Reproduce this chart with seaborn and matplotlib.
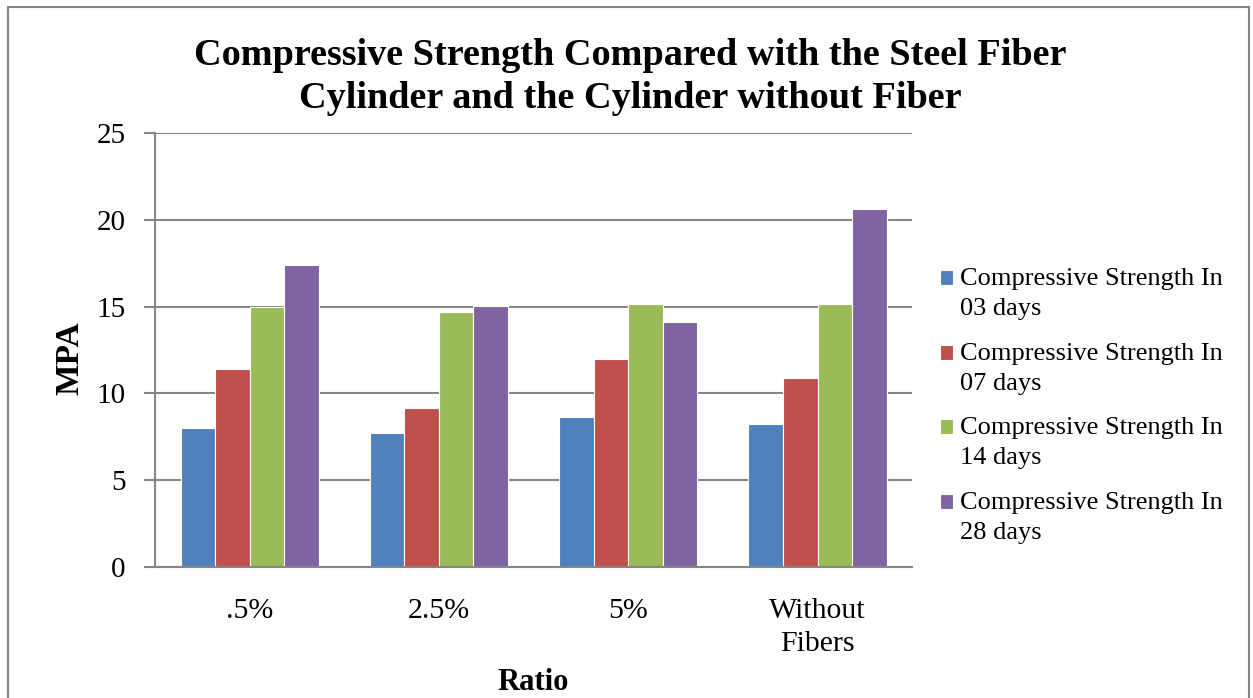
import pandas as pd
import matplotlib.pyplot as plt
import seaborn as sns
from matplotlib.patches import Rectangle
from matplotlib.legend_handler import HandlerPatch

# data
ratios = ['.5%', '2.5%', '5%', 'Without\nFibers']
series = ['Compressive Strength In\n03 days', 'Compressive Strength In\n07 days',
          'Compressive Strength In\n14 days', 'Compressive Strength In\n28 days']
days_03 = [8.02, 7.73, 8.63, 8.23]
days_07 = [11.38, 9.15, 11.96, 10.88]
days_14 = [15.0, 14.67, 15.17, 15.15]
days_28 = [17.37, 15.06, 14.11, 20.6]
colors = ['#4F81BD', '#C0504D', '#9BBB59', '#8064A2']

df = pd.DataFrame({'Ratio': ratios * 4,
                   'MPA': days_03 + days_07 + days_14 + days_28,
                   'Serie': [s for s in series for _ in ratios]})

sns.set_style('white')
plt.rcParams['font.family'] = ['Liberation Serif', 'DejaVu Serif']
plt.rcParams['text.color'] = 'black'
plt.rcParams['xtick.color'] = 'black'
plt.rcParams['ytick.color'] = 'black'
plt.rcParams['axes.labelcolor'] = 'black'

fig = plt.figure(figsize=(12.53, 6.98), dpi=100)
ax = fig.add_axes([0.1237, 0.1877, 0.6043, 0.6218])

sns.barplot(data=df, x='Ratio', y='MPA', hue='Serie', palette=colors, width=0.73,
            gap=0, edgecolor='white', linewidth=0.8, ax=ax, saturation=1)

ax.set_ylim(0, 25)
ax.set_xlim(-0.5, 3.5)
ax.set_yticks([0, 5, 10, 15, 20, 25])
ax.yaxis.grid(True, color='#868686', linewidth=1.5)
ax.set_axisbelow(True)
for s in ['top', 'right']:
    ax.spines[s].set_visible(False)
for s in ['left', 'bottom']:
    ax.spines[s].set_color('#868686')
    ax.spines[s].set_linewidth(1.5)
ax.tick_params(axis='y', which='major', length=8, width=1.5, color='#868686',
               labelsize=21, pad=13, left=True, labelcolor='black')
ax.tick_params(axis='x', length=0, labelsize=21.5, pad=22, labelcolor='black')
for t in ax.get_xticklabels():
    t.set_linespacing(1.35)

ax.set_xlabel('Ratio', fontsize=22, fontweight='bold', labelpad=8)
ax.set_ylabel('MPA', fontsize=24, fontweight='bold')
ax.yaxis.set_label_coords(-0.092, 0.48)

fig.suptitle('Compressive Strength Compared with the Steel Fiber\nCylinder and the Cylinder without Fiber',
             fontsize=27.5, fontweight='bold', x=0.503, y=0.946, linespacing=1.32)


# legend squares sit next to the first line of each two-line label
def first_line_square(legend, orig_handle, xdescent, ydescent, width, height, fontsize):
    return Rectangle((-xdescent, -ydescent + 0.59 * fontsize), width, height)


handles, labels = ax.get_legend_handles_labels()
ax.get_legend().remove()
leg = fig.legend(handles, labels, loc='upper left', bbox_to_anchor=(0.750, 0.616),
                 frameon=False, fontsize=19, handlelength=0.5, handleheight=0.5,
                 handletextpad=0.25, labelspacing=0.85, borderpad=0, borderaxespad=0,
                 handler_map={h: HandlerPatch(patch_func=first_line_square) for h in handles})
for t in leg.get_texts():
    t.set_linespacing(1.48)

# outer chart border
fig.patches.append(Rectangle((0.0064, -0.05), 0.9904, 1.04, transform=fig.transFigure,
                             fill=False, edgecolor='#868686', linewidth=1.5))

plt.savefig('out.png', dpi=100)
